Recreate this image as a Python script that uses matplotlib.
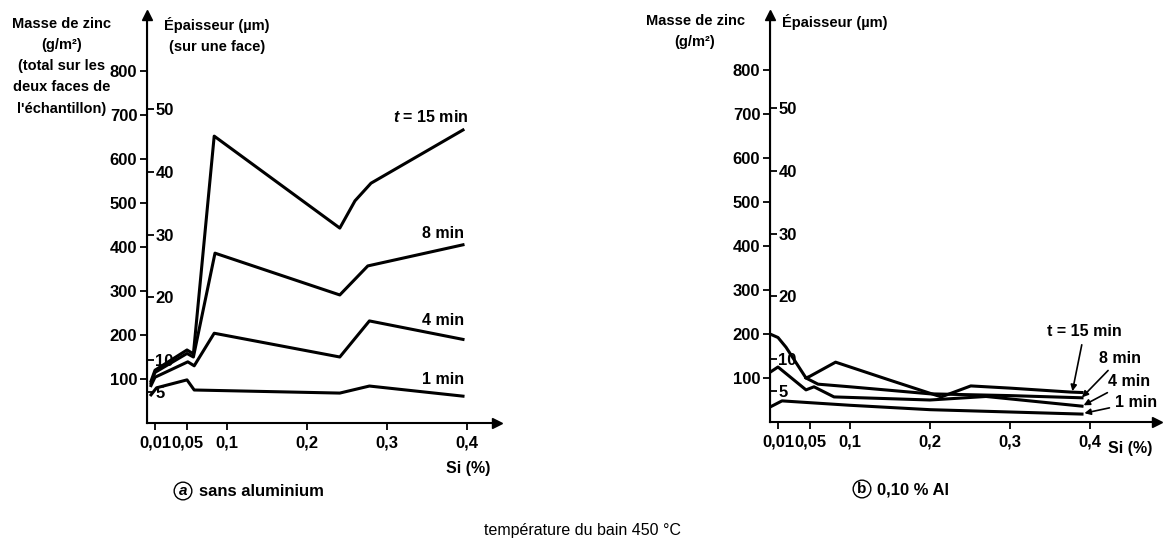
import matplotlib.pyplot as plt

plt.rcParams['font.family'] = ['Liberation Sans', 'DejaVu Sans']
plt.rcParams['font.weight'] = 'bold'
plt.rcParams['mathtext.fontset'] = 'custom'
plt.rcParams['mathtext.it'] = 'Liberation Sans:italic:bold'

# Si axis ticks
si_ticks = [0.01, 0.05, 0.1, 0.2, 0.3, 0.4]
si_labels = ['0,01', '0,05', '0,1', '0,2', '0,3', '0,4']
zn_ticks = [100, 200, 300, 400, 500, 600, 700, 800]
um_ticks = [5, 10, 20, 30, 40, 50]
G_PER_UM = 14.28  # g/m2 per um, both faces

# (a) sans aluminium
si_a_15 = [0.005, 0.01, 0.05, 0.058, 0.084, 0.241, 0.26, 0.28, 0.395]
zn_a_15 = [95, 120, 166, 157, 652, 443, 505, 545, 666]
si_a_8 = [0.005, 0.01, 0.05, 0.058, 0.085, 0.241, 0.276, 0.395]
zn_a_8 = [90, 115, 158, 150, 386, 291, 357, 405]
si_a_4 = [0.005, 0.01, 0.051, 0.059, 0.084, 0.241, 0.278, 0.395]
zn_a_4 = [85, 104, 139, 130, 204, 150, 232, 190]
si_a_1 = [0.005, 0.012, 0.05, 0.059, 0.241, 0.278, 0.395]
zn_a_1 = [64, 80, 98, 75, 68, 84, 61]

# (b) 0,10 % Al
si_b_15 = [0, 0.01, 0.02, 0.045, 0.05, 0.082, 0.15, 0.214, 0.251, 0.3, 0.376, 0.39]
zn_b_15 = [200, 192, 170, 100, 104, 136, 95, 57, 82, 77, 68, 67]
si_b_8 = [0.045, 0.06, 0.1, 0.2, 0.3, 0.39]
zn_b_8 = [100, 86, 80, 64, 60, 55]
si_b_4 = [0, 0.01, 0.045, 0.055, 0.08, 0.2, 0.27, 0.39]
zn_b_4 = [113, 125, 73, 80, 57, 50, 58, 36]
si_b_1 = [0, 0.015, 0.1, 0.2, 0.39]
zn_b_1 = [34, 48, 38, 28, 18]

W, H = 1163, 541
fig = plt.figure(figsize=(W / 100, H / 100), dpi=100)


def fx(px):
    return px / W


def fy(py):
    return 1 - py / H


def setup(ax, x0, y0, x1, y1):
    ax.set_xlim(0, (x1 - x0) / 800)
    ax.set_ylim(0, (y0 - y1) / 0.44)
    ax.spines[['top', 'right']].set_visible(False)
    ax.spines[['left', 'bottom']].set_linewidth(1.5)
    ax.plot(1, 0, '>k', transform=ax.transAxes, clip_on=False, ms=7)
    ax.plot(0, 1, '^k', transform=ax.transAxes, clip_on=False, ms=7)
    ax.set_xticks(si_ticks, si_labels)
    ax.set_yticks(zn_ticks, [str(v) for v in zn_ticks])
    ax.tick_params(width=1.3, length=5, labelsize=12, pad=2)
    ax.tick_params(axis='x', pad=4)
    sec = ax.secondary_yaxis(0, functions=(lambda g: g / G_PER_UM,
                                           lambda u: u * G_PER_UM))
    sec.set_alignment('right')
    sec.set_yticks(um_ticks, [str(v) for v in um_ticks])
    sec.tick_params(width=1.3, length=5, labelsize=12, pad=1)


ax_a = fig.add_axes([fx(147), fy(423), (497 - 147) / W, (423 - 15) / H])
ax_b = fig.add_axes([fx(770), fy(422), (1157 - 770) / W, (422 - 15) / H])
setup(ax_a, 147, 423, 497, 15)
setup(ax_b, 770, 422, 1157, 15)

for x, y in [(si_a_15, zn_a_15), (si_a_8, zn_a_8), (si_a_4, zn_a_4), (si_a_1, zn_a_1)]:
    ax_a.plot(x, y, color='black', lw=2.2)
for x, y in [(si_b_15, zn_b_15), (si_b_8, zn_b_8), (si_b_4, zn_b_4), (si_b_1, zn_b_1)]:
    ax_b.plot(x, y, color='black', lw=2.2)

# curve labels (a)
ax_a.text(0.355, 695, '$t$ = 15 min', ha='center', va='center', fontsize=11.5)
ax_a.text(0.37, 430, '8 min', ha='center', va='center', fontsize=11.5)
ax_a.text(0.37, 232, '4 min', ha='center', va='center', fontsize=11.5)
ax_a.text(0.37, 98, '1 min', ha='center', va='center', fontsize=11.5)

# curve labels (b) with arrows
arrow = dict(arrowstyle='-|>', lw=1.2, color='black', mutation_scale=9,
             shrinkA=2, shrinkB=0)
ax_b.annotate('t = 15 min', xy=(0.378, 70), xytext=(0.393, 205),
              ha='center', va='center', fontsize=11.5, arrowprops=arrow)
ax_b.annotate('8 min', xy=(0.39, 56), xytext=(0.4375, 145),
              ha='center', va='center', fontsize=11.5, arrowprops=arrow)
ax_b.annotate('4 min', xy=(0.392, 38), xytext=(0.449, 93),
              ha='center', va='center', fontsize=11.5, arrowprops=arrow)
ax_b.annotate('1 min', xy=(0.393, 20), xytext=(0.4575, 45),
              ha='center', va='center', fontsize=11.5, arrowprops=arrow)

# axis titles
fig.text(fx(62), fy(17), "Masse de zinc\n(g/m²)\n(total sur les\ndeux faces de\nl'échantillon)",
         ha='center', va='top', fontsize=10.5, linespacing=1.65)
fig.text(fx(217), fy(17), 'Épaisseur (µm)\n(sur une face)',
         ha='center', va='top', fontsize=10.5, linespacing=1.6)
fig.text(fx(695), fy(14), 'Masse de zinc\n(g/m²)',
         ha='center', va='top', fontsize=10.5, linespacing=1.6)
fig.text(fx(782), fy(14), 'Épaisseur (µm)', ha='left', va='top', fontsize=10.5)

fig.text(fx(468), fy(468), 'Si (%)', ha='center', va='center', fontsize=11.5)
fig.text(fx(1130), fy(449), 'Si (%)', ha='center', va='center', fontsize=11.5)

# captions
circle = dict(boxstyle='circle,pad=0.12', fc='white', ec='black', lw=1)
fig.text(fx(183), fy(491), 'a', style='italic', ha='center', va='center',
         fontsize=11, bbox=circle)
fig.text(fx(199), fy(492), 'sans aluminium', ha='left', va='center', fontsize=12)
fig.text(fx(862), fy(489), 'b', ha='center', va='center', fontsize=11, bbox=circle)
fig.text(fx(877), fy(490), '0,10 % Al', ha='left', va='center', fontsize=12)

fig.text(fx(582), fy(530), 'température du bain 450 °C', ha='center', va='center',
         fontsize=11.5, fontweight='normal')

fig.savefig('out.png', dpi=100)
